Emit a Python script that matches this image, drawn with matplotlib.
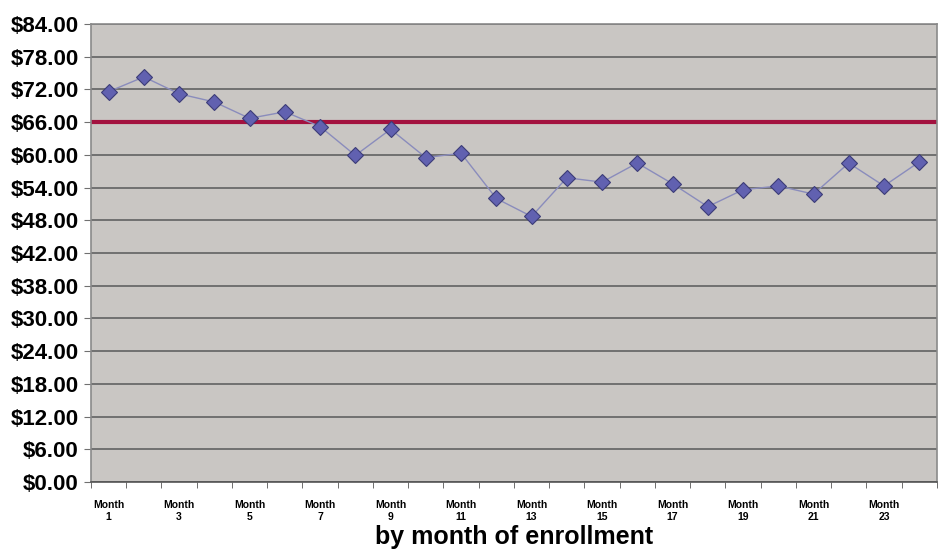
import matplotlib.pyplot as plt
import numpy as np

plt.rcParams['font.family'] = ['Liberation Sans', 'DejaVu Sans']

# ---------------------------
# data
# ---------------------------
months = list(range(1, 25))
cost = [71.6, 74.3, 71.2, 69.7, 66.7, 67.9, 65.2, 59.9, 64.7, 59.5, 60.3, 52.0,
        48.7, 55.8, 55.0, 58.5, 54.7, 50.5, 53.6, 54.3, 52.8, 58.5, 54.3, 58.7]
target = [66.0] * len(months)

y_ticks = [0, 6, 12, 18, 24, 30, 36, 42, 48, 54, 60, 66, 72, 78, 84]
y_labels = ["$0.00", "$6.00", "$12.00", "$18.00", "$24.00", "$30.00", "$38.00",
            "$42.00", "$48.00", "$54.00", "$60.00", "$66.00", "$72.00", "$78.00", "$84.00"]
x_label_months = list(range(1, 24, 2))

# ---------------------------
# plot
# ---------------------------
fig = plt.figure(figsize=(9.43, 5.56), dpi=100)
ax = fig.add_axes([0.0965, 0.1331, 0.897, 0.8237])
ax.set_facecolor("#c9c6c3")

for y in y_ticks:
    ax.axhline(y, color="#707070", lw=1.4, zorder=1)

ax.plot([0.5, 24.5], [target[0], target[-1]], color="#a3123f", lw=3, zorder=2)

ax.plot(months, cost, color="#8a8cbc", lw=1, zorder=3,
        marker="D", markersize=8.5, markerfacecolor="#6161b0",
        markeredgecolor="#3c3c78", markeredgewidth=0.8)

ax.set_xlim(0.5, 24.5)
ax.set_ylim(0, 84)

ax.set_yticks(y_ticks)
ax.set_yticklabels(y_labels, fontsize=16, fontweight="bold")
ax.tick_params(axis="y", length=5, color="#707070", pad=4)

ax.set_xticks(x_label_months)
ax.set_xticklabels([f"Month\n{m}" for m in x_label_months],
                   fontsize=7.5, fontweight="bold", linespacing=1.25)
ax.set_xticks(np.arange(0.5, 25, 1), minor=True)
ax.tick_params(axis="x", which="major", length=0, pad=13)
ax.tick_params(axis="x", which="minor", length=4, color="#555555")

for s in ax.spines.values():
    s.set_color("#8a8a8a")
    s.set_linewidth(1.2)
ax.spines["bottom"].set_color("#555555")

ax.set_xlabel("by month of enrollment", fontsize=18, fontweight="bold", labelpad=2)

plt.savefig("out.png", dpi=100)
